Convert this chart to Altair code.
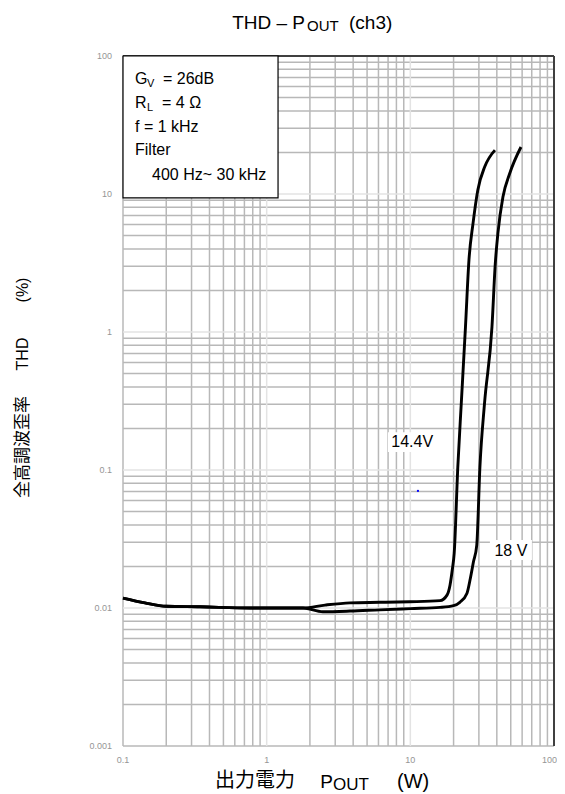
import altair as alt
import pandas as pd

# ---------------- data ----------------
p_144 = [0.1, 0.142, 0.2, 0.343, 0.766, 1.79, 2.55, 3.8, 6.14, 9.93, 16.1, 18.0, 18.9, 19.6,
         20.2, 21.4, 22.7, 24.2, 25.6, 27.3, 29.5, 33.0, 38.8]
thd_144 = [0.0118, 0.0109, 0.0103, 0.0102, 0.0100, 0.0100, 0.0105, 0.0109, 0.0110, 0.0111, 0.0113,
           0.0124, 0.0147, 0.019, 0.025, 0.105, 0.323, 1.09, 3.34, 6.1, 10.7, 15.8, 20.8]

p_18 = [0.1, 0.142, 0.2, 0.343, 0.766, 1.79, 2.46, 3.8, 6.1, 10.0, 16.1, 20.0, 22.1, 24.8, 26.2,
        27.5, 29.0, 30.5, 32.8, 37.0, 39.0, 40.7, 44.1, 49.3, 58.9]
thd_18 = [0.0118, 0.0109, 0.0103, 0.0102, 0.0100, 0.0100, 0.0094, 0.0095, 0.0097, 0.0099, 0.0101,
          0.0104, 0.0110, 0.0128, 0.0165, 0.0216, 0.0286, 0.105, 0.30, 1.09, 3.1, 5.2, 9.5, 14.2, 21.9]

series_names = ["14.4V", "18V"]

x_ticks = [0.1, 1, 10, 100]
x_tick_labels = ["0.1", "1", "10", "100"]
y_ticks = [0.001, 0.01, 0.1, 1, 10, 100]
y_tick_labels = ["0.001", "0.01", "0.1", "1", "10", "100"]
minor_mult = [2, 3, 4, 5, 6, 7, 8, 9]
x_decades = [0.1, 1, 10]
y_decades = [0.001, 0.01, 0.1, 1, 10]

legend_lines = ["f = 1 kHz", "Filter", "400 Hz~ 30 kHz"]

# ---------------- tables ----------------
curves = pd.DataFrame({
    "P": p_144 + p_18,
    "THD": thd_144 + thd_18,
    "series": [series_names[0]] * len(p_144) + [series_names[1]] * len(p_18),
    "order": list(range(len(p_144))) + list(range(len(p_18))),
})

grid_x = [0.1] + [round(m * d, 6) for d in x_decades for m in minor_mult]
grid_y = [0.001] + [round(m * d, 6) for d in y_decades for m in minor_mult]
light_x = [1, 10]
light_y = [0.01, 0.1, 1, 10]

xs = alt.Scale(type="log", domain=[0.1, 100])
ys = alt.Scale(type="log", domain=[0.001, 100])

W, H = 431, 690
GRID = "#b8b8b8"
LIGHT = "#e3e3e3"
TICKC = "#959595"
LAT = "Liberation Sans"
CJK = "Noto Sans CJK JP"


def xenc(field="P"):
    return alt.X(f"{field}:Q", scale=xs, axis=None)


def yenc(field="THD"):
    return alt.Y(f"{field}:Q", scale=ys, axis=None)


gx = alt.Chart(pd.DataFrame({"P": grid_x})).mark_rule(color=GRID, strokeWidth=1.5).encode(x=xenc())
gy = alt.Chart(pd.DataFrame({"THD": grid_y})).mark_rule(color=GRID, strokeWidth=1.5).encode(y=yenc())
lx = alt.Chart(pd.DataFrame({"P": light_x})).mark_rule(color=LIGHT, strokeWidth=1.5).encode(x=xenc())
ly = alt.Chart(pd.DataFrame({"THD": light_y})).mark_rule(color=LIGHT, strokeWidth=1.5).encode(y=yenc())
bx = alt.Chart(pd.DataFrame({"P": [x_ticks[-1]]})).mark_rule(color="#404040", strokeWidth=2).encode(x=xenc())
by = alt.Chart(pd.DataFrame({"THD": [y_ticks[-1]]})).mark_rule(color="#404040", strokeWidth=2).encode(y=yenc())

# tick labels, placed through the scales (the last x label is kept inside the page)
xlab = alt.Chart(pd.DataFrame({"P": x_ticks[:-1], "lab": x_tick_labels[:-1]})).mark_text(
    font=LAT, fontSize=9, color=TICKC, align="center", baseline="middle"
).encode(x=xenc(), y=alt.value(H + 14), text="lab:N")
xlab_end = alt.Chart(pd.DataFrame({"P": x_ticks[-1:], "lab": x_tick_labels[-1:]})).mark_text(
    font=LAT, fontSize=9, color=TICKC, align="right", baseline="middle", dx=3
).encode(x=xenc(), y=alt.value(H + 14), text="lab:N")
ylab = alt.Chart(pd.DataFrame({"THD": y_ticks, "lab": y_tick_labels})).mark_text(
    font=LAT, fontSize=9, color=TICKC, align="right", baseline="middle"
).encode(y=yenc(), x=alt.value(-11), text="lab:N")

# legend box (data coordinates)
legend_box = alt.Chart(pd.DataFrame({"P": [0.1], "P2": [1.2], "THD": [9.36], "THD2": [100]})).mark_rect(
    fill="white", stroke="black", strokeWidth=1.2
).encode(x=xenc(), x2="P2", y=yenc(), y2="THD2")

# white label boxes behind the series labels
lab_boxes = alt.Chart(pd.DataFrame({
    "P": [6.98, 35.8], "P2": [15.3, 70.2], "THD": [0.135, 0.0223], "THD2": [0.188, 0.0311]
})).mark_rect(fill="white").encode(x=xenc(), x2="P2", y=yenc(), y2="THD2")

lab_text = alt.Chart(pd.DataFrame({
    "P": [10.3, 50.1], "THD": [0.160, 0.0259], "t": ["14.4V", "18 V"]
})).mark_text(font=LAT, fontSize=16, color="black").encode(x=xenc(), y=yenc(), text="t:N")

lines = alt.Chart(curves).mark_line(color="black", strokeWidth=2.9, interpolate="monotone").encode(
    x=xenc(),
    y=yenc(),
    detail="series:N",
    order="order:Q",
)

dot = alt.Chart(pd.DataFrame({"P": [11.3], "THD": [0.0705]})).mark_point(
    filled=True, color="blue", size=5, opacity=1
).encode(x=xenc(), y=yenc())


# ---------------- pixel-placed text pieces (titles, subscripts) ----------------
def ptext(t, px, py, fs, font=LAT, angle=0, align="left", baseline="alphabetic"):
    return alt.Chart(pd.DataFrame({"t": [t]})).mark_text(
        font=font, fontSize=fs, align=align, baseline=baseline, angle=angle, color="black"
    ).encode(x=alt.value(px), y=alt.value(py), text="t:N")


texts = [
    # title
    ptext("THD – P", 182, -27, 19, align="right"),
    ptext("OUT", 184, -25, 15),
    ptext("(ch3)", 226, -27, 19),
    # x title
    ptext("出力電力", 92, 731, 20, font=CJK),
    ptext("P", 210, 732, 19, align="right"),
    ptext("OUT", 210, 734, 17),
    ptext("(W)", 274, 732, 20),
    # y title
    ptext("全高調波歪率", -100, 391, 17, font=CJK, angle=270, align="center", baseline="middle"),
    ptext("THD", -100, 298, 16, angle=270, align="center", baseline="middle"),
    ptext("(%)", -100, 234, 16, angle=270, align="center", baseline="middle"),
    # conditions box
    ptext("G", 12, 28, 16),
    ptext("V", 24, 31, 11),
    ptext("= 26dB", 40, 28, 16),
    ptext("R", 12, 52, 16),
    ptext("L", 24, 55, 11),
    ptext("= 4 Ω", 39, 52, 16),
    ptext(legend_lines[0], 12, 76, 16),
    ptext(legend_lines[1], 12, 99, 16),
    ptext(legend_lines[2], 29, 124, 16),
]

chart = alt.layer(
    gx, gy, lx, ly, bx, by, xlab, xlab_end, ylab, lab_boxes, legend_box, lines, dot, lab_text, *texts
).properties(
    width=W, height=H,
    autosize=alt.AutoSizeParams(type="none"),
    padding={"left": 115, "top": 48, "right": 3, "bottom": 48},
).configure_view(stroke=None)

chart.save("out.html", embed_options={"renderer": "svg", "actions": False})
